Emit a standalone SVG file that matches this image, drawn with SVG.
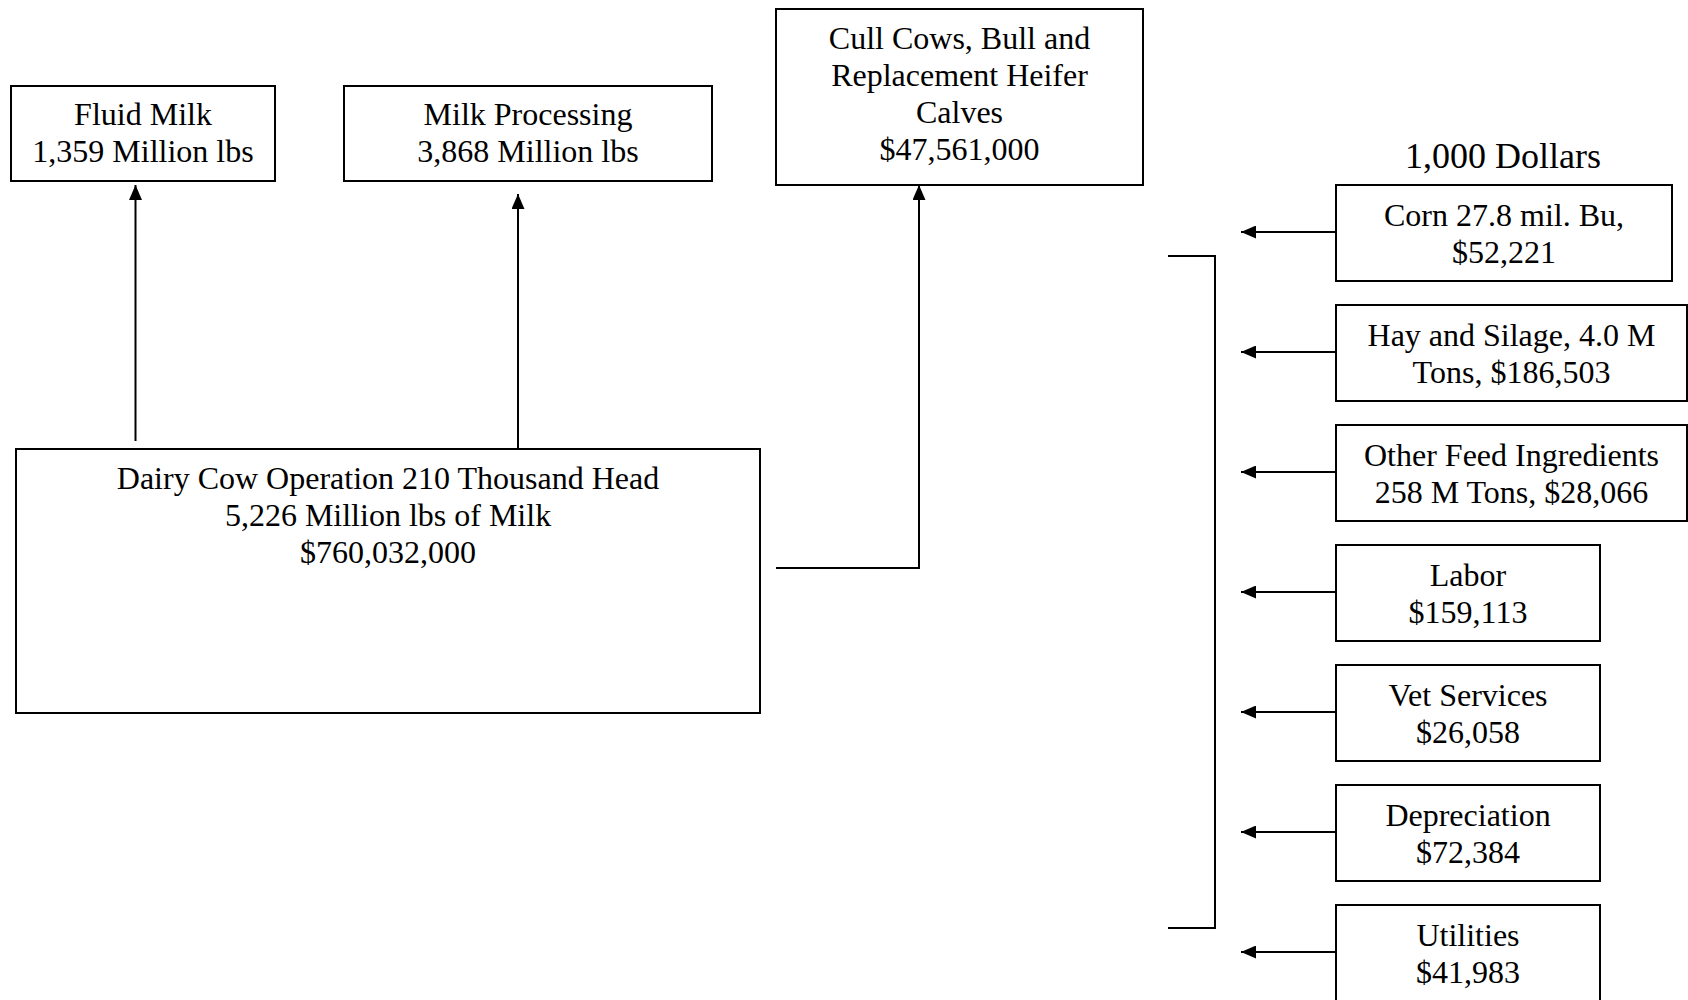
<svg xmlns="http://www.w3.org/2000/svg" width="1688" height="1000" viewBox="0 0 1688 1000">
<defs>
<marker id="ah" viewBox="0 0 15 13" refX="15" refY="6.5" markerWidth="15" markerHeight="13" markerUnits="userSpaceOnUse" orient="auto">
<path d="M0,0 L15,6.5 L0,13 Z" fill="#000"/>
</marker>
<style>
rect.box{fill:#fff;stroke:#000;stroke-width:2}
text{font-family:"Liberation Serif","Times New Roman",serif;font-size:32px;fill:#000;text-anchor:middle}
.ln{fill:none;stroke:#000;stroke-width:2}
</style>
</defs>
<rect width="1688" height="1000" fill="#fff"/>
<g id="connectors">
<line class="ln" x1="135.5" y1="441" x2="135.5" y2="185" marker-end="url(#ah)"/>
<line class="ln" x1="518" y1="450" x2="518" y2="194" marker-end="url(#ah)"/>
<polyline class="ln" points="776,568 919,568 919,185" marker-end="url(#ah)"/>
<polyline class="ln" points="1168,256 1215,256 1215,928 1168,928"/>
<line class="ln" x1="1336" y1="232" x2="1241" y2="232" marker-end="url(#ah)"/>
<line class="ln" x1="1336" y1="352" x2="1241" y2="352" marker-end="url(#ah)"/>
<line class="ln" x1="1336" y1="472" x2="1241" y2="472" marker-end="url(#ah)"/>
<line class="ln" x1="1336" y1="592" x2="1241" y2="592" marker-end="url(#ah)"/>
<line class="ln" x1="1336" y1="712" x2="1241" y2="712" marker-end="url(#ah)"/>
<line class="ln" x1="1336" y1="832" x2="1241" y2="832" marker-end="url(#ah)"/>
<line class="ln" x1="1336" y1="952" x2="1241" y2="952" marker-end="url(#ah)"/>
</g>
<g id="fluid-milk">
<rect class="box" x="11" y="86" width="264" height="95"/>
<text x="143" y="125">Fluid Milk</text>
<text x="143" y="162">1,359 Million lbs</text>
</g>
<g id="milk-processing">
<rect class="box" x="344" y="86" width="368" height="95"/>
<text x="528" y="125">Milk Processing</text>
<text x="528" y="162">3,868 Million lbs</text>
</g>
<g id="cull-cows">
<rect class="box" x="776" y="9" width="367" height="176"/>
<text x="959.5" y="49">Cull Cows, Bull and</text>
<text x="959.5" y="86">Replacement Heifer</text>
<text x="959.5" y="123">Calves</text>
<text x="959.5" y="160">$47,561,000</text>
</g>
<g id="dairy-cow-operation">
<rect class="box" x="16" y="449" width="744" height="264"/>
<text x="388" y="489">Dairy Cow Operation 210 Thousand Head</text>
<text x="388" y="526">5,226 Million lbs of Milk</text>
<text x="388" y="563">$760,032,000</text>
</g>
<g id="units-label">
<text x="1503" y="168" style="font-size:36px">1,000 Dollars</text>
</g>
<g id="corn">
<rect class="box" x="1336" y="185" width="336" height="96"/>
<text x="1504" y="226">Corn 27.8 mil. Bu,</text>
<text x="1504" y="263">$52,221</text>
</g>
<g id="hay-silage">
<rect class="box" x="1336" y="305" width="351" height="96"/>
<text x="1511.5" y="346">Hay and Silage, 4.0 M</text>
<text x="1511.5" y="383">Tons, $186,503</text>
</g>
<g id="other-feed">
<rect class="box" x="1336" y="425" width="351" height="96"/>
<text x="1511.5" y="466">Other Feed Ingredients</text>
<text x="1511.5" y="503">258 M Tons, $28,066</text>
</g>
<g id="labor">
<rect class="box" x="1336" y="545" width="264" height="96"/>
<text x="1468" y="586">Labor</text>
<text x="1468" y="623">$159,113</text>
</g>
<g id="vet-services">
<rect class="box" x="1336" y="665" width="264" height="96"/>
<text x="1468" y="706">Vet Services</text>
<text x="1468" y="743">$26,058</text>
</g>
<g id="depreciation">
<rect class="box" x="1336" y="785" width="264" height="96"/>
<text x="1468" y="826">Depreciation</text>
<text x="1468" y="863">$72,384</text>
</g>
<g id="utilities">
<rect class="box" x="1336" y="905" width="264" height="96"/>
<text x="1468" y="946">Utilities</text>
<text x="1468" y="983">$41,983</text>
</g>
</svg>
